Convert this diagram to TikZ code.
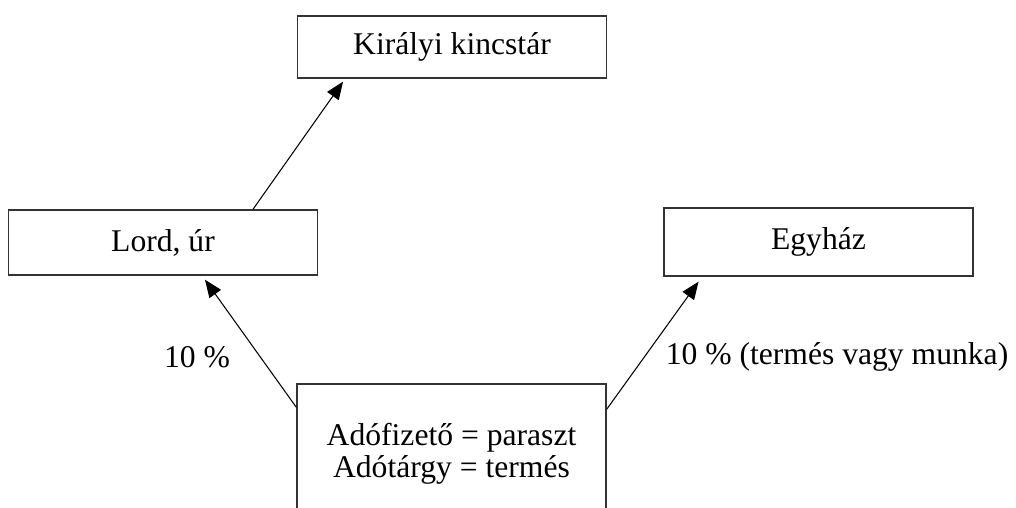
\documentclass[tikz,border=0pt]{standalone}
\usepackage{fontspec}
\setmainfont{Liberation Serif}
\usetikzlibrary{arrows.meta,positioning}

\begin{document}
\begin{tikzpicture}[x=0.02cm,y=-0.02cm]
        \tikzstyle{rectblock}=[rectangle, draw=black!80, line width=0.8pt, inner sep=0pt, minimum width=6.18cm, minimum height=1.3cm, font=\fontsize{18}{18.2}\selectfont]
        \tikzstyle{pct}=[inner sep=0pt, font=\fontsize{18}{18.2}\selectfont]
        \clip (0,0) rectangle (1016,507);
        \node[rectblock, minimum height=1.24cm] (kincstar) at (452,47) {Királyi kincstár};
        \node[rectblock] (lord) at (163,242.5) {Lord, úr};
        \node[rectblock, minimum height=1.36cm] (egyhaz) at (818.5,242) {Egyház};
        \node[rectblock, minimum height=2.8cm, align=center] (paraszt) at (451.5,454) {Adófizető = paraszt\\Adótárgy = termés};
        \node[pct] (lordpct) at (197,357) {10 \%};
        \node[pct] (egyhazpct) at (837,357) {10 \% (termés vagy munka)};
        \draw [-{Triangle[length=10pt,width=8pt]},line width=0.6pt] ([xshift=1.8cm]lord.north) -- ([xshift=-2.18cm,yshift=-0.06cm]kincstar.south);
        \draw [-{Triangle[length=10pt,width=8pt]},line width=0.6pt] ([yshift=-0.48cm]paraszt.north west) -- ([xshift=0.84cm,yshift=-0.08cm]lord.south);
        \draw [-{Triangle[length=10pt,width=8pt]},line width=0.6pt] ([yshift=-0.52cm]paraszt.north east) -- ([xshift=-2.4cm,yshift=-0.1cm]egyhaz.south);
      \end{tikzpicture}
\end{document}
